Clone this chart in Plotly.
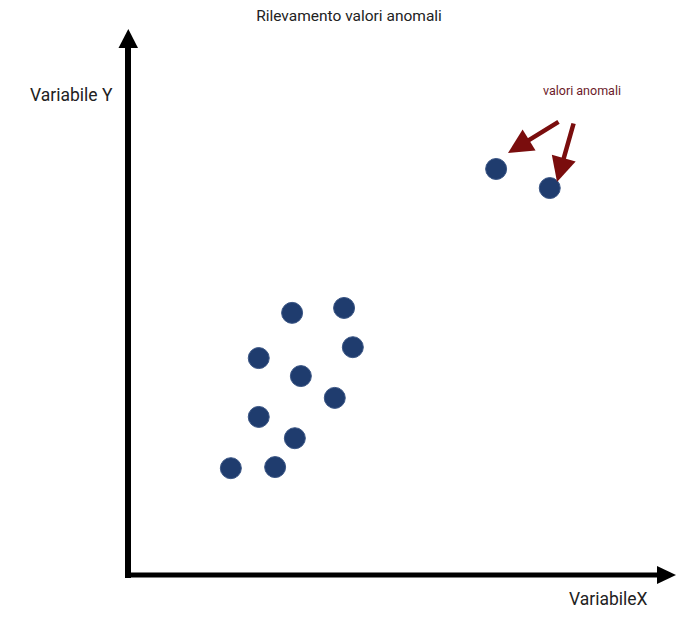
import plotly.graph_objects as go

# Data (arbitrary units)
x_vals = [1.88, 2.69, 3.05, 2.39, 3.16, 3.78, 2.39, 3.00, 3.95, 4.11, 6.73, 7.71]
y_vals = [1.96, 1.98, 2.51, 2.90, 3.65, 3.25, 3.98, 4.81, 4.90, 4.18, 7.45, 7.10]

title_text = "Rilevamento valori anomali"
x_label = "VariabileX"
y_label = "Variabile Y"
outlier_label = "valori anomali"

W, H = 694, 621
L, R, T, B = 128, 19, 30, 46
pw, ph = W - L - R, H - T - B

def px(xp):
    return (xp - L) / pw

def py(yp):
    return (H - B - yp) / ph

fig = go.Figure()
fig.add_trace(go.Scatter(
    x=x_vals, y=y_vals, mode="markers",
    marker=dict(size=21, color="#1f3c6e", line=dict(color="#3b5685", width=1)),
    hoverinfo="x+y", showlegend=False, cliponaxis=False,
))

shapes = [
    # y axis line + arrow head
    dict(type="line", xref="paper", yref="paper", x0=0, x1=0, y0=py(578), y1=py(46),
         line=dict(color="black", width=6)),
    dict(type="path", xref="paper", yref="paper",
         path=f"M {px(118.5)} {py(48)} L {px(138)} {py(48)} L {px(128.3)} {py(29)} Z",
         fillcolor="black", line=dict(color="black", width=0)),
    # x axis line + arrow head
    dict(type="line", xref="paper", yref="paper", x0=px(125), x1=px(659), y0=0, y1=0,
         line=dict(color="black", width=5)),
    dict(type="path", xref="paper", yref="paper",
         path=f"M {px(657)} {py(566)} L {px(657)} {py(584)} L {px(676)} {py(575)} Z",
         fillcolor="black", line=dict(color="black", width=0)),
]

font_fam = "Roboto, Arial, sans-serif"
annotations = [
    dict(text=y_label, xref="paper", yref="paper", x=px(71), y=py(95), showarrow=False,
         xanchor="center", yanchor="middle",
         font=dict(size=17.5, color="#222222", family=font_fam)),
    dict(text=x_label, xref="paper", yref="paper", x=px(608), y=py(599), showarrow=False,
         xanchor="center", yanchor="middle",
         font=dict(size=17.5, color="#222222", family=font_fam)),
    dict(text=outlier_label, xref="paper", yref="paper", x=px(582), y=py(90), showarrow=False,
         xanchor="center", yanchor="middle",
         font=dict(size=12.5, color="#6b1a2a", family=font_fam)),
    dict(text="", xref="paper", yref="paper", x=px(508), y=py(153),
         axref="pixel", ayref="pixel", ax=52, ay=-32, showarrow=True,
         arrowhead=2, arrowsize=1.1, arrowwidth=4.5, arrowcolor="#7a0d0d", standoff=0),
    dict(text="", xref="paper", yref="paper", x=px(557), y=py(182),
         axref="pixel", ayref="pixel", ax=17, ay=-60, showarrow=True,
         arrowhead=2, arrowsize=1.1, arrowwidth=4.5, arrowcolor="#7a0d0d", standoff=0),
]

fig.update_layout(
    width=W, height=H,
    margin=dict(l=L, r=R, t=T, b=B),
    paper_bgcolor="white", plot_bgcolor="white",
    title=dict(text=title_text, x=349 / W, xref="container", xanchor="center",
               y=1 - 16 / H, yref="container", yanchor="middle",
               font=dict(size=15.5, color="#222222", family=font_fam)),
    xaxis=dict(range=[0, 10], showgrid=False, zeroline=False, showticklabels=False,
               ticks="", showline=False, fixedrange=True),
    yaxis=dict(range=[0, 10], showgrid=False, zeroline=False, showticklabels=False,
               ticks="", showline=False, fixedrange=True),
    shapes=shapes,
    annotations=annotations,
    showlegend=False,
)

fig.write_html(
    "out.html",
    config={"displayModeBar": False},
    post_script="document.body.style.margin='0px';document.body.style.overflow='hidden';",
)
